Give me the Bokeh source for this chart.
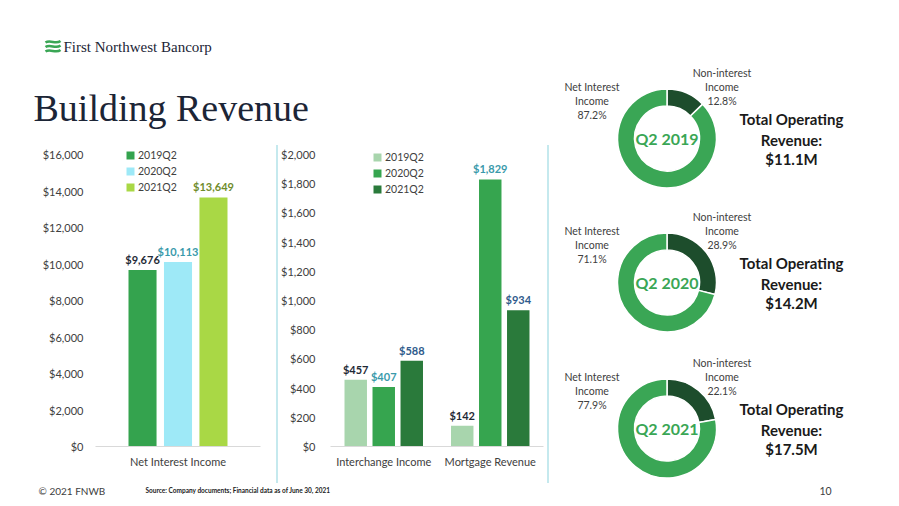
import math
from bokeh.plotting import figure
from bokeh.models import (ColumnDataSource, FactorRange, Range1d, Legend, LegendItem,
                          NumeralTickFormatter, FixedTicker, Spacer)
from bokeh.transform import dodge
from bokeh.layouts import row, column
from bokeh.core.properties import value
from bokeh.embed import file_html
from bokeh.resources import INLINE

# ---------------- data ----------------
series = ["2019Q2", "2020Q2", "2021Q2"]
nii_categories = ["Net Interest Income"]
nii_2019 = [9676]
nii_2020 = [10113]
nii_2021 = [13649]
nii_ticks = [0, 2000, 4000, 6000, 8000, 10000, 12000, 14000, 16000]

fee_categories = ["Interchange Income", "Mortgage Revenue"]
fee_2019 = [457, 142]
fee_2020 = [407, 1829]
fee_2021 = [588, 934]
fee_ticks = [0, 200, 400, 600, 800, 1000, 1200, 1400, 1600, 1800, 2000]

periods = ["Q2 2019", "Q2 2020", "Q2 2021"]
net_interest_pct = [87.2, 71.1, 77.9]
non_interest_pct = [12.8, 28.9, 22.1]
total_revenue = ["$11.1M", "$14.2M", "$17.5M"]

# ---------------- style ----------------
FONT = "Lato"
SERIF = "Liberation Serif"
NAVY = "#1c2536"
GRAY = "#404040"
SEP = "#c5e9ee"

FRAME_H = 302      # frame height in px
TICK_H = 292       # px between $0 and top tick


def bar_fig(width, factors, ymax, ticks, bl, br, ystand):
    p = figure(width=width, height=345, x_range=FactorRange(*factors),
               y_range=Range1d(0, ymax * FRAME_H / TICK_H),
               output_backend="svg", toolbar_location=None,
               min_border_left=bl, min_border_right=br, min_border_top=6, min_border_bottom=37)
    p.outline_line_color = None
    p.grid.visible = False
    p.yaxis.ticker = FixedTicker(ticks=ticks)
    p.yaxis.formatter = NumeralTickFormatter(format="$0,0")
    p.yaxis.axis_line_color = None
    p.yaxis.major_tick_line_color = None
    p.yaxis.minor_tick_line_color = None
    p.yaxis.major_tick_out = 0
    p.yaxis.major_label_standoff = ystand
    p.xaxis.axis_line_color = "#d9d9d9"
    p.xaxis.major_tick_line_color = None
    p.xaxis.minor_tick_line_color = None
    p.xaxis.major_tick_out = 0
    p.xaxis.major_label_standoff = 8
    for ax in (p.xaxis, p.yaxis):
        ax.major_label_text_font = FONT
        ax.major_label_text_font_size = "11px"
        ax.major_label_text_color = GRAY
    return p


def add_bars(p, cats, vals_list, colors, label_colors, width, offsets, legend_loc):
    items = []
    for name, vals, col, lcol, off in zip(series, vals_list, colors, label_colors, offsets):
        src = ColumnDataSource(dict(cat=cats, y=vals, label=[f"${v:,}" for v in vals]))
        r = p.vbar(x=dodge("cat", off, range=p.x_range), top="y", width=width, source=src,
                   fill_color=col, line_color=None)
        p.text(x=dodge("cat", off, range=p.x_range), y="y", text="label", source=src,
               text_align="center", text_baseline="bottom", y_offset=-4,
               text_font=value(FONT), text_font_style="bold", text_font_size="11px",
               text_color=lcol)
        items.append(LegendItem(label=name, renderers=[r]))
    leg = Legend(items=items, location=legend_loc, glyph_width=10, glyph_height=10,
                 label_height=16, label_standoff=3, spacing=0, padding=0, margin=0,
                 border_line_color=None, background_fill_alpha=0,
                 label_text_font=FONT, label_text_font_size="10.5px", label_text_color=GRAY)
    p.add_layout(leg)


# left bar chart
p1 = bar_fig(268, nii_categories, 16000, nii_ticks, 87, 16, 12)
add_bars(p1, nii_categories, [nii_2019, nii_2020, nii_2021],
         ["#34a34e", "#9ee9f7", "#a9d845"], ["#1f2a36", "#3a9aab", "#6f8c2b"],
         0.17, [-0.215, 0, 0.215], (30, 251))

# middle bar chart
p2 = bar_fig(269, fee_categories, 2000, fee_ticks, 52, 4, 15)
add_bars(p2, fee_categories, [fee_2019, fee_2020, fee_2021],
         ["#a8d5ad", "#36a54f", "#2a7a3b"], ["#1f2a36", "#3a9aab", "#2f5b8c"],
         0.211, [-0.263, 0, 0.263], (42, 249))

# header
hdr = figure(width=541, height=130, x_range=Range1d(0, 541), y_range=Range1d(0, 130),
             output_backend="svg", toolbar_location=None, min_border=0,
             x_axis_location=None, y_axis_location=None)
hdr.outline_line_color = None
hdr.grid.visible = False
for yy in (96, 91.5, 87):
    hdr.bezier(x0=[37], y0=[yy], x1=[52], y1=[yy + 1.5], cx0=[42], cy0=[yy + 3.5],
               cx1=[47], cy1=[yy - 2.5], line_color="#3aa655", line_width=2.6)
hdr.text(x=[55], y=[92], text=["First Northwest Bancorp"], text_font=value(SERIF),
         text_font_size="15px", text_color=NAVY, text_baseline="middle")
hdr.text(x=[25], y=[31], text=["Building Revenue"], text_font=value(SERIF),
         text_font_size="38px", text_color=NAVY, text_baseline="middle")

# right donut panel
rp = figure(width=342, height=475, x_range=Range1d(0, 342), y_range=Range1d(0, 475),
            output_backend="svg", toolbar_location=None, min_border=0,
            x_axis_location=None, y_axis_location=None)
rp.outline_line_color = None
rp.grid.visible = False

cx = 117.5
cys = [345, 201, 55]
ni_end = [math.pi / 2 - 2 * math.pi * s / 100 for s in non_interest_pct]
dsrc = ColumnDataSource(dict(x=[cx] * 3, y=cys, a0=ni_end, a1=[math.pi / 2] * 3))
rp.annular_wedge(x="x", y="y", inner_radius=32.5, outer_radius=49.5, start_angle="a0",
                 end_angle="a1", source=dsrc, fill_color="#1d4d2c", line_color="white",
                 line_width=1.5)
rp.annular_wedge(x="x", y="y", inner_radius=32.5, outer_radius=49.5, start_angle="a1",
                 end_angle="a0", source=dsrc, fill_color="#3aa655", line_color="white",
                 line_width=1.5)
rp.text(x=[cx] * 3, y=cys, text=periods, text_align="center", text_baseline="middle",
        text_font=value(FONT), text_font_style="bold", text_font_size="16px",
        text_color="#3aa655")

lab_x, lab_y, lab_t = [], [], []
for cy, a, b in zip(cys, net_interest_pct, non_interest_pct):
    for dy, t in zip((52, 38, 24), ("Net Interest", "Income", f"{a}%")):
        lab_x.append(cx - 75); lab_y.append(cy + dy); lab_t.append(t)
    for dy, t in zip((66, 52, 38), ("Non-interest", "Income", f"{b}%")):
        lab_x.append(cx + 55); lab_y.append(cy + dy); lab_t.append(t)
rp.text(x=lab_x, y=lab_y, text=lab_t, text_align="center", text_baseline="middle",
        text_font=value(FONT), text_font_size="10.5px", text_color=GRAY)

tot_x, tot_y, tot_t = [], [], []
for cy, tr in zip(cys, total_revenue):
    for dy, t in zip((19.5, -1, -20.5), ("Total Operating", "Revenue:", tr)):
        tot_x.append(242); tot_y.append(cy + dy); tot_t.append(t)
rp.text(x=tot_x, y=tot_y, text=tot_t, text_align="center", text_baseline="middle",
        text_font=value(FONT), text_font_style="bold", text_font_size="15px",
        text_color="#1a1a1a")

# footer
ft = figure(width=883, height=15, x_range=Range1d(0, 883), y_range=Range1d(0, 15),
            output_backend="svg", toolbar_location=None, min_border=0,
            x_axis_location=None, y_axis_location=None)
ft.outline_line_color = None
ft.grid.visible = False
ft.text(x=[30], y=[8], text=["\u00a9 2021 FNWB"], text_baseline="middle",
        text_font=value(FONT), text_font_size="10px", text_color=GRAY)
ft.text(x=[137], y=[8], text=["Source: Company documents; Financial data as of June 30, 2021"],
        text_baseline="middle", text_font=value(FONT), text_font_style="bold",
        text_font_size="6.5px", text_color="#222222")
ft.text(x=[817], y=[8], text=["10"], text_baseline="middle", text_align="center",
        text_font=value(FONT), text_font_size="10.5px", text_color=GRAY)


def sep():
    return column(Spacer(width=2, height=7),
                  Spacer(width=2, height=338, styles={"background-color": SEP}),
                  spacing=0)


left = column(hdr, row(p1, sep(), p2, sep(), spacing=0), spacing=0)
body = column(row(left, rp, spacing=0), ft, spacing=0)
layout = column(Spacer(width=891, height=8),
                row(Spacer(width=8, height=490), body, spacing=0), spacing=0)

open("out.html", "w").write(file_html(layout, INLINE))
